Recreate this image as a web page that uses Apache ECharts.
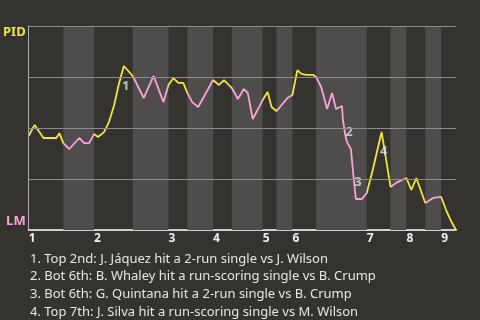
<!DOCTYPE html>
<html><head><meta charset="utf-8">
<script src="https://cdn.jsdelivr.net/npm/echarts@6/dist/echarts.min.js"></script>
<style>html,body{margin:0;padding:0;background:#353330;}#c{width:480px;height:320px;}</style>
</head><body><div id="c"></div>
<script>
// Game progress (x) and PID win probability (y, 1 = PID, 0 = LM)
const wpX = [0,6,15,28,31,35,41,51,56,61,66,70,76,81,86,91,96,105,116,126,136,141,146,151,156,160,165,171,186,192,197,205,211,217,221,226,236,241,245,250,261,266,271,275,280,287,290,295,301,306,310,316,317,319,321,325,327,329,330,336,341,347,356,365,372,381,386,391,400,408,416,421,426,431];
const wpY = [0.461,0.515,0.451,0.451,0.475,0.426,0.397,0.451,0.426,0.426,0.471,0.456,0.480,0.529,0.608,0.716,0.804,0.755,0.647,0.755,0.627,0.711,0.745,0.721,0.721,0.672,0.627,0.603,0.735,0.711,0.735,0.696,0.642,0.691,0.672,0.544,0.637,0.676,0.603,0.583,0.647,0.662,0.784,0.765,0.760,0.760,0.750,0.701,0.593,0.672,0.593,0.608,0.539,0.475,0.431,0.397,0.294,0.196,0.152,0.152,0.181,0.294,0.480,0.211,0.235,0.255,0.196,0.255,0.132,0.157,0.162,0.098,0.044,0];
// half-inning boundaries (top1, bot1, top2, ...)
const halfBounds = [0,35,66,105,141,160,186,205,236,250,266,290,341,365,381,400,416,431];
const inningStarts = [0,66,141,186,236,266,341,381,416];
const inningLabels = ['1','2','3','4','5','6','7','8','9'];
const gridValues = [0.25,0.5,0.75,1];
const yTeamTop = 'PID';
const yTeamBottom = 'LM';
// annotations
const annX = [96,321,330,356];
const annY = [0.804,0.578,0.333,0.485];
const annLabels = ['1','2','3','4'];
const notes = [
  '1. Top 2nd: J. Jáquez hit a 2-run single vs J. Wilson',
  '2. Bot 6th: B. Whaley hit a run-scoring single vs B. Crump',
  '3. Bot 6th: G. Quintana hit a 2-run single vs B. Crump',
  '4. Top 7th: J. Silva hit a run-scoring single vs M. Wilson'
];

const YEL = '#f2e43c', PINK = '#f9a3d8', BAND = '#4e4d4b', BG = '#353330';
const FONT = 'Noto Sans';

const bands = [];
const pieces = [];
for (let i = 0; i < halfBounds.length - 1; i++) {
  if (i % 2 === 1) bands.push([{xAxis: halfBounds[i]}, {xAxis: halfBounds[i+1]}]);
  pieces.push({gte: halfBounds[i], lt: (i === halfBounds.length - 2) ? 1e9 : halfBounds[i+1], color: i % 2 === 0 ? YEL : PINK});
}

const chart = echarts.init(document.getElementById('c'));
chart.setOption({
  backgroundColor: BG,
  animation: false,
  textStyle: {fontFamily: FONT},
  grid: {left: 25, right: 24, top: 26, bottom: 90},
  title: {
    text: notes.join('\n'), left: 25, top: 245,
    textStyle: {color: '#e6e6e6', fontSize: 13, fontWeight: 'normal', lineHeight: 17.7, fontFamily: FONT}
  },
  xAxis: {
    type: 'value', min: 0, max: 431,
    axisLine: {show: true, lineStyle: {color: '#cfcfcf', width: 2}},
    axisTick: {show: false},
    splitLine: {show: false},
    axisLabel: {
      customValues: inningStarts,
      formatter: v => inningLabels[inningStarts.indexOf(v)] || '',
      color: '#eeeeee', fontWeight: 'bold', fontSize: 12, align: 'left', margin: 3
    }
  },
  yAxis: {
    type: 'value', min: 0, max: 1, interval: 0.25,
    axisLine: {show: true, lineStyle: {color: '#b0b0b0', width: 1}},
    axisTick: {show: false},
    splitLine: {show: false},
    axisLabel: {
      margin: 3,
      formatter: v => v === 1 ? '{t|' + yTeamTop + '}' : (v === 0 ? '{b|' + yTeamBottom + '}' : ''),
      rich: {
        t: {color: YEL, fontWeight: 'bold', fontSize: 13, padding: [13, 0, 0, 0], fontFamily: FONT},
        b: {color: PINK, fontWeight: 'bold', fontSize: 13, padding: [0, 0, 18, 0], fontFamily: FONT}
      }
    }
  },
  visualMap: {show: false, type: 'piecewise', dimension: 0, seriesIndex: 2, pieces: pieces},
  series: [
    {type: 'line', data: [], z: 1, silent: true,
     markArea: {silent: true, itemStyle: {color: BAND}, data: bands}},
    {type: 'line', data: [], z: 2, silent: true,
     markLine: {silent: true, symbol: 'none', label: {show: false},
                lineStyle: {color: '#8c8c8c', width: 1, type: 'solid'},
                data: gridValues.map(v => ({yAxis: v}))}},
    {type: 'line', z: 3, symbol: 'none', lineStyle: {width: 1.8},
     data: wpX.map((x, i) => [x, wpY[i]])},
    {type: 'scatter', z: 4, symbolSize: 0,
     data: annX.map((x, i) => ({value: [x, annY[i]], name: annLabels[i]})),
     label: {show: true, formatter: p => p.name, position: 'inside', offset: [2, 20],
             color: '#e0e0e0', fontWeight: 'bold', fontSize: 13, fontFamily: FONT}}
  ]
});
</script></body></html>
